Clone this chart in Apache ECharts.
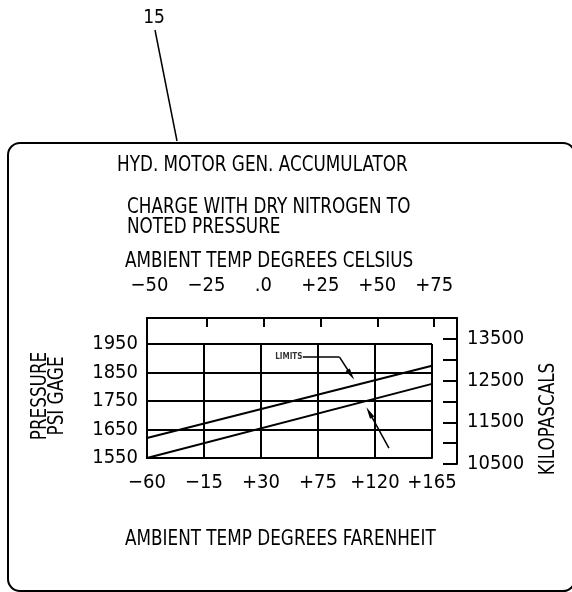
<!DOCTYPE html>
<html>
<head>
<meta charset="utf-8">
<script src="https://cdn.jsdelivr.net/npm/echarts@6/dist/echarts.min.js"></script>
<style>
html,body{margin:0;padding:0;background:#fff;}
#c{width:572px;height:592px;}
</style>
</head>
<body>
<div id="c"></div>
<script>
// ---- data ----
const tempEndsF = [-60, 165];              // Fahrenheit end points of the limit lines
const upperLimitPsi = [1620, 1874];        // upper limit line (psi)
const lowerLimitPsi = [1550, 1810];        // lower limit line (psi)
const fahrenheitTicks = [-60, -15, 30, 75, 120, 165];
const psiTicks = [1550, 1650, 1750, 1850, 1950];
const celsiusTicks = [-50, -25, 0, 25, 50, 75];
const celsiusLabels = ['\u221250', '\u221225', '.0', '+25', '+50', '+75'];
const celsiusTickMarks = [-25, 0, 25, 50, 75];
const kpaTicks = [10500, 11500, 12500, 13500];
const limitsLabelPoint = [52, 1904];
const limitsLeader = [[63, 1904], [92, 1904]];
const limitsArrowUpper = [[92, 1904], [101, 1842]];
const limitsArrowLower = [[131, 1585], [115.5, 1710]];

const FONT = '"Liberation Sans Narrow", "DejaVu Sans Condensed", "Liberation Sans", sans-serif';
const FS = 20;      // axis label size
const TFS = 22;     // title text size
const SX = 0.85;    // horizontal squeeze for title text
const fMin = -60, fMax = 185;
const toC = f => (f - 32) * 5 / 9;
const signed = v => v > 0 ? '+' + v : (v < 0 ? '\u2212' + (-v) : '0');

const chart = echarts.init(document.getElementById('c'), null, {renderer: 'canvas'});
const black = '#000';
const axisLine = {show: true, onZero: false, lineStyle: {color: black, width: 2}};

function txt(text, x, y, extra) {
  return Object.assign({type: 'text', x: x, y: y, scaleX: SX, silent: true,
    style: {text: text, fontFamily: FONT, fontSize: TFS, fill: black, align: 'left', verticalAlign: 'middle'}}, extra || {});
}

chart.setOption({
  animation: false,
  backgroundColor: '#fff',
  grid: [
    {left: 147, top: 344, width: 285, height: 114},
    {left: 147, top: 318, width: 310, height: 140},
    {left: 147, top: 318, width: 310, height: 146}
  ],
  xAxis: [
    {
      gridIndex: 0, type: 'value', min: fahrenheitTicks[0], max: fahrenheitTicks[fahrenheitTicks.length - 1], interval: 45,
      axisLine: axisLine,
      axisTick: {show: false},
      splitLine: {show: true, lineStyle: {color: black, width: 2}},
      axisLabel: {color: black, fontFamily: FONT, fontSize: FS, margin: 15, formatter: v => signed(v)}
    },
    {
      gridIndex: 1, type: 'value', position: 'top', min: toC(fMin), max: toC(fMax),
      axisLine: axisLine,
      axisTick: {show: true, inside: true, length: 9, customValues: celsiusTickMarks, lineStyle: {color: black, width: 2}},
      splitLine: {show: false},
      axisLabel: {color: black, fontFamily: FONT, fontSize: FS, margin: 22, customValues: celsiusTicks,
        formatter: v => { const i = celsiusTicks.indexOf(Math.round(v)); return i >= 0 ? celsiusLabels[i] : ''; }}
    },
    {gridIndex: 2, type: 'value', min: fMin, max: fMax, show: false}
  ],
  yAxis: [
    {
      gridIndex: 0, type: 'value', min: psiTicks[0], max: psiTicks[psiTicks.length - 1], interval: 100,
      axisLine: axisLine,
      axisTick: {show: false},
      splitLine: {show: true, lineStyle: {color: black, width: 2}},
      axisLabel: {color: black, fontFamily: FONT, fontSize: FS, margin: 9, formatter: v => String(v)}
    },
    {
      gridIndex: 1, type: 'value', min: 1550, max: 2041,
      axisLine: axisLine,
      axisTick: {show: false}, axisLabel: {show: false}, splitLine: {show: false}
    },
    {
      gridIndex: 2, type: 'value', position: 'right', min: 10500, max: 14000, interval: 500,
      axisLine: axisLine,
      axisTick: {show: true, inside: true, length: 14, lineStyle: {color: black, width: 2}},
      splitLine: {show: false},
      axisLabel: {color: black, fontFamily: FONT, fontSize: FS, margin: 10,
        formatter: v => kpaTicks.indexOf(v) >= 0 ? String(v) : ''}
    }
  ],
  series: [
    {
      name: 'Upper limit', type: 'line', xAxisIndex: 0, yAxisIndex: 0,
      data: tempEndsF.map((t, i) => [t, upperLimitPsi[i]]),
      showSymbol: false, symbol: 'none', lineStyle: {color: black, width: 2}, silent: true
    },
    {
      name: 'Lower limit', type: 'line', xAxisIndex: 0, yAxisIndex: 0,
      data: tempEndsF.map((t, i) => [t, lowerLimitPsi[i]]),
      showSymbol: false, symbol: 'none', lineStyle: {color: black, width: 2}, silent: true
    },
    {
      name: 'Limits leader', type: 'lines', coordinateSystem: 'cartesian2d', xAxisIndex: 0, yAxisIndex: 0,
      symbol: 'none', silent: true,
      lineStyle: {color: black, width: 1.5, opacity: 1, curveness: 0},
      data: [{coords: limitsLeader}]
    },
    {
      name: 'Limits arrows', type: 'lines', coordinateSystem: 'cartesian2d', xAxisIndex: 0, yAxisIndex: 0,
      symbol: ['none', 'triangle'], symbolSize: [0, [5, 12]], silent: true,
      lineStyle: {color: black, width: 1.5, opacity: 1, curveness: 0},
      data: [{coords: limitsArrowUpper}, {coords: limitsArrowLower}]
    },
    {
      name: 'Limits label', type: 'scatter', xAxisIndex: 0, yAxisIndex: 0,
      data: [limitsLabelPoint], symbolSize: 1, itemStyle: {color: 'rgba(0,0,0,0)'}, silent: true,
      label: {show: true, position: 'inside', formatter: 'LIMITS', color: black,
        fontFamily: FONT, fontSize: 8, fontWeight: 900}
    }
  ],
  graphic: [
    {type: 'rect', shape: {x: 8, y: 143, width: 567, height: 448, r: 12},
      style: {fill: 'none', stroke: black, lineWidth: 2}, silent: true},
    {type: 'line', shape: {x1: 155, y1: 30, x2: 177, y2: 141},
      style: {stroke: black, lineWidth: 1.5}, silent: true},
    {type: 'text', x: 154, y: 18, silent: true,
      style: {text: '15', fontFamily: FONT, fontSize: 19, fill: black, align: 'center', verticalAlign: 'middle'}},
    txt('HYD. MOTOR GEN. ACCUMULATOR', 117, 165),
    txt('CHARGE WITH DRY NITROGEN TO\nNOTED PRESSURE', 127, 217, {style: {text: 'CHARGE WITH DRY NITROGEN TO\nNOTED PRESSURE', fontFamily: FONT, fontSize: TFS, lineHeight: 20, fill: black, align: 'left', verticalAlign: 'middle'}}),
    txt('AMBIENT TEMP DEGREES CELSIUS', 125, 261),
    txt('AMBIENT TEMP DEGREES FARENHEIT', 125, 539),
    txt('KILOPASCALS', 548, 419, {rotation: Math.PI / 2,
      style: {text: 'KILOPASCALS', fontFamily: FONT, fontSize: TFS, fill: black, align: 'center', verticalAlign: 'middle'}}),
    txt('PRESSURE\nPSI GAGE', 49, 396, {rotation: Math.PI / 2,
      style: {text: 'PRESSURE\nPSI GAGE', fontFamily: FONT, fontSize: TFS, lineHeight: 17, fill: black, align: 'center', verticalAlign: 'middle'}})
  ]
});
</script>
</body>
</html>
